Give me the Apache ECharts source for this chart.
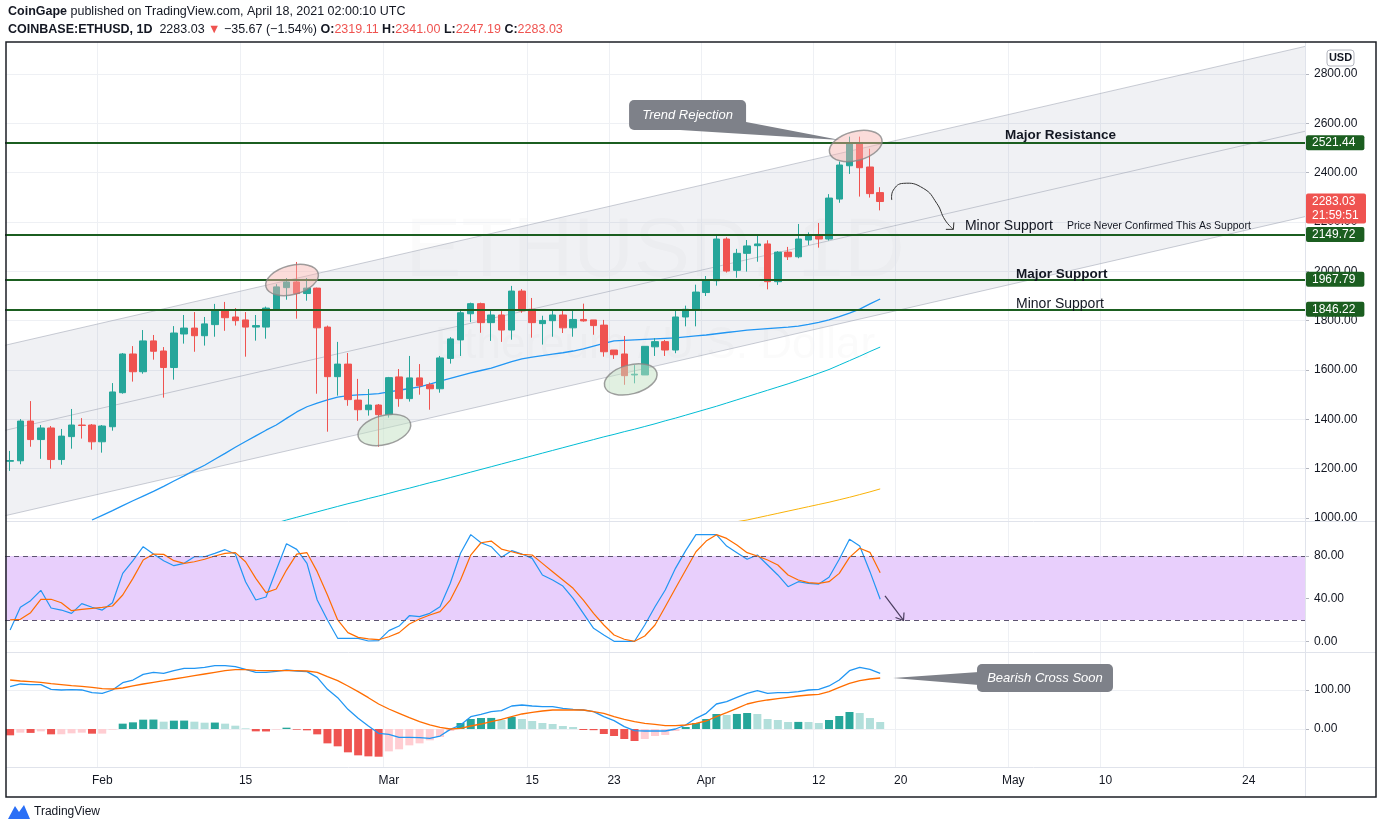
<!DOCTYPE html>
<html><head><meta charset="utf-8">
<script src="https://cdn.jsdelivr.net/npm/echarts@6/dist/echarts.min.js"></script>
<style>html,body{margin:0;padding:0;background:#fff}#c{width:1380px;height:831px}</style>
</head><body><div id="c"></div>
<script>
// ---------- categories ----------
const dates = [];
(function(){ let t = Date.UTC(2021,0,23); const end = Date.UTC(2021,4,29);
  while (t <= end) { dates.push(new Date(t).toISOString().slice(0,10)); t += 86400000; } })();
const N = dates.length;
const tickDates  = ['2021-02-01','2021-02-15','2021-03-01','2021-03-15','2021-03-23','2021-04-01','2021-04-12','2021-04-20','2021-05-01','2021-05-10','2021-05-24'];
const tickLabels = ['Feb','15','Mar','15','23','Apr','12','20','May','10','24'];
const priceTicks = [1000,1200,1400,1600,1800,2000,2200,2400,2600,2800];
const stochTicks = [0,40,80];
const macdTicks  = [0,100];

// ---------- OHLC (Jan 23 .. Apr 18) ----------
const open  = [1230,1232,1393,1318,1365,1237,1330,1377,1377,1309,1370,1508,1665,1593,1718,1677,1610,1746,1770,1739,1784,1845,1815,1803,1774,1774,1846,1934,1957,1910,1932,1774,1573,1624,1478,1439,1458,1419,1572,1484,1568,1540,1524,1647,1722,1828,1869,1792,1823,1762,1920,1846,1788,1800,1823,1771,1805,1803,1782,1681,1665,1580,1580,1694,1715,1681,1815,1846,1914,1962,2131,2004,2073,2104,2111,1958,2078,2059,2127,2146,2131,2293,2428,2519,2423,2319.11];
const high  = [1272,1401,1474,1377,1373,1361,1442,1405,1381,1377,1547,1669,1697,1762,1742,1693,1778,1823,1835,1815,1868,1876,1851,1835,1823,1857,1948,1973,2038,1973,1934,1780,1714,1669,1564,1523,1462,1572,1604,1657,1624,1549,1657,1733,1846,1873,1873,1843,1839,1941,1928,1892,1820,1840,1846,1840,1869,1803,1803,1681,1738,1620,1696,1729,1722,1839,1861,1946,1981,2143,2138,2091,2127,2147,2126,2082,2099,2192,2158,2196,2313,2445,2546,2546,2497,2341.00];
const low   = [1191,1218,1289,1240,1200,1216,1281,1322,1277,1265,1354,1504,1553,1585,1642,1488,1561,1707,1674,1699,1735,1759,1780,1654,1719,1727,1842,1885,1808,1881,1504,1350,1496,1455,1394,1415,1289,1407,1451,1472,1500,1439,1508,1626,1657,1794,1751,1718,1714,1723,1832,1731,1703,1735,1750,1735,1796,1743,1654,1645,1540,1546,1580,1657,1657,1668,1777,1777,1900,1942,1995,1974,1999,2039,1927,1945,2046,2053,2107,2096,2125,2278,2395,2303,2299,2247.19];
const close = [1233,1393,1318,1365,1237,1332,1377,1375,1309,1373,1511,1665,1593,1718,1676,1610,1750,1770,1739,1787,1845,1812,1800,1774,1780,1851,1937,1957,1910,1932,1771,1573,1624,1480,1439,1458,1419,1569,1484,1568,1536,1524,1649,1726,1832,1869,1792,1823,1762,1920,1840,1792,1801,1823,1771,1805,1799,1780,1674,1662,1577,1583,1696,1715,1681,1815,1846,1916,1965,2131,2001,2073,2103,2111,1958,2078,2059,2131,2146,2131,2297,2431,2519,2420,2315,2283.03];

// ---------- moving averages ----------
function pad(n, arr){ return Array(n).fill(null).concat(arr); }
const ma50 = pad(8, [992,1011,1030,1050,1070,1089,1108,1128,1150,1171,
  1193,1214,1238,1262,1287,1310,1333,1356,1377,1404,
  1430,1451,1466,1479,1490,1496,1499,1501,1504,1511,
  1518,1525,1532,1543,1555,1566,1577,1588,1598,1608,
  1621,1634,1645,1652,1658,1664,1670,1677,1686,1697,
  1708,1718,1720,1722,1724,1726,1728,1730,1734,1738,
  1742,1747,1752,1757,1762,1765,1768,1771,1774,1778,
  1785,1793,1803,1816,1831,1847,1868,1888]);
const ma100 = pad(26, [980,992,1003,1014,1025,1036,1047,1058,1068,1079,
  1089,1100,1111,1121,1132,1143,1153,1164,1175,1186,
  1197,1208,1219,1230,1241,1252,1263,1274,1285,1296,
  1307,1318,1329,1339,1350,1360,1371,1382,1394,1405,
  1417,1429,1441,1453,1466,1479,1492,1505,1518,1531,
  1544,1558,1572,1587,1602,1620,1638,1656,1675,1693]);
const ma200 = pad(71, [985,992,1001,1010,1019,1028,1037,1046,1055,1064,1074,1084,1095,1106,1118]);

// ---------- Stoch RSI ----------
const stochK = [10.6,31.9,38.1,47.8,31.2,29.3,26.2,35.3,31.9,29.3,36.2,63.7,75.6,88.7,81.8,75.6,70.9,73.1,79.3,79.3,82.5,85.9,81.8,55.9,38.7,41.5,66.8,91.5,86.2,73.1,38.7,20,2.8,2.8,2.8,0.3,0.6,10,14.3,24,23.1,26.2,32.4,54.4,82.5,100,92.4,88.7,78.7,85,81.8,77.8,62.2,57.5,51.8,40.3,26.2,12.2,5.9,0,0,0,15.3,32.4,48.1,68.4,85,100,100,100,89.3,83.1,76.9,80.9,71.5,62.2,51.2,55.9,54.4,53.7,60,76.9,95.6,89.3,65.3,39.4];
const stochD = [20,20.6,26.8,39.4,39.4,36.2,28.7,30,30.9,31.9,33.1,43.4,59,76.2,81.8,81.5,75.6,73.1,74.6,76.9,80,82.5,83.1,74.6,59,45.6,49,66.8,81.8,83.1,65.3,43.4,20,8.1,3.7,2.2,1.5,4.3,8.1,16.2,20.9,24.7,27.8,38.7,57.5,80.9,92.4,94,86.5,84,81.5,80.9,73.1,65.3,57.5,49.7,38.7,26.2,15.3,5.9,1.9,0,5,15.3,32.4,49.7,66.8,84,94,100,96.5,90.3,83.1,80,76.2,71.5,62.2,57.5,55,54.4,55.9,63.7,78.7,87.2,83.4,64.3];

// ---------- MACD ----------
const macdLine = [108.5,115.4,113.7,113.7,101.7,100,100.9,100,93.2,91.5,100,118.8,125.6,140.2,145.3,142.7,149.6,155.6,155.6,158.1,162.4,162.4,159.8,153,145.3,145.3,147.9,151.3,148.7,147,132.5,101.7,80.3,50.4,27.4,7.7,-11,-13.7,-21.4,-21.4,-22.2,-24,-18,-0.9,10.3,31.6,37.6,44.4,47,59,61.5,59,57.3,57.3,53,50.4,48.7,44.4,31.6,21.4,6,-4.3,-5.1,-5.1,-5.1,0,10.3,27.4,40.2,64.1,70.1,81.2,91.5,98.3,91.5,93.2,93.2,95.7,100,101.7,110.3,125.6,149.6,158.1,153,142.7];
const macdSignal = [125.6,123.1,121.4,119.7,116.2,113.7,111.1,109.4,106.8,103.4,102.6,105.1,110.3,115.4,119.7,123.9,128.2,132.5,136.8,141,145.3,149.6,152.1,152.1,150.4,149.6,149.6,149.6,149.6,148.7,145.3,134.2,123.9,110.3,95.7,80.3,64.1,51.3,40.2,29.1,18.8,10.3,4.3,0,1.7,7.7,12.8,18.8,24.8,31.6,38.5,42.7,46.2,48.7,48.7,48.7,48.7,44.4,40.2,31.6,24.8,18.8,14.5,12,8.5,8.5,10.3,14.5,20.5,31.6,41.9,53,64.1,70.1,74.4,77.8,81.2,84.6,87.2,88.9,95.7,106.8,117.1,124,128.2,130.8];
const macdHist = [-16.2,-9.4,-10,-6,-13.7,-13.5,-11.1,-9.4,-12,-11.8,-1.7,13.7,17.1,23.9,24.2,18.8,21.4,21.6,18.8,16.2,16.5,13.7,8.5,1.7,-6,-6.3,-1.7,3.4,-1.7,-3.4,-13.7,-36.8,-44.4,-59.8,-67.5,-70.1,-71,-57.3,-52.1,-41.9,-36.8,-29,-20.5,-5.1,15.4,25.6,28.2,28.4,23.1,30.8,25.6,20.5,15.4,12.8,7.7,5.1,-2.6,-3,-12.8,-17.9,-25.6,-30.8,-25.6,-17.9,-15.4,-5.1,5.1,15.4,25.6,38.5,35.9,38.6,41,38.5,25.6,23.1,17.9,18.2,17.9,15.4,23.1,33.3,43.6,41,28.2,17.9];

// ---------- drawn levels / annotations (data coordinates) ----------
const levels = [2521.44, 2149.72, 1967.79, 1846.22];
const lastPrice = 2283.03;
const channelIdx = [0, 126];
const channelUpper = [1705, 2907];
const channelMid = [1360, 2563];
const channelLower = [1014, 2217];
const ellipseAnchors = [[27.54, 1965, 'red'], [36.56, 1357, 'green'], [60.63, 1562, 'green'], [82.61, 2508, 'red']];
const textAnchors = [
  ['Major Resistance', 97.2, 2552.7, 'b'],
  ['Minor Support', 93.28, 2183.8, 'n'],
  ['Price Never Confirmed This As Support', 103.25, 2183.8, 's'],
  ['Major Support', 98.27, 1989.2, 'b'],
  ['Minor Support', 98.27, 1867.6, 'n']
];
const trendTip = [81.08, 2532.4];
const bearTip = [86.25, 130.8];
const curveStart = [86.13, 2289];
const stochArrowStart = [85.47, 42.5];

// ---------- chart ----------
const FONT = 'Liberation Sans, Arial, sans-serif';
const UP = '#26a69a', DN = '#ef5350', UPL = '#b2dfdb', DNL = '#ffcdd2';
const GRIDC = '#eef0f4';
const tickSet = new Set(tickDates);
const histColors = macdHist.map((v, i) => { const p = i > 0 ? macdHist[i-1] : v;
  if (v >= 0) return v > p ? UP : UPL; return v < p || i === 0 ? DN : DNL; });

const grids = [
  {left:5, right:75, top:42, height:479},
  {left:5, right:75, top:521, height:131},
  {left:5, right:75, top:652, height:115}
].map(g => Object.assign(g, {containLabel:false, outerBoundsMode:'none', show:false}));

function xAx(i){
  return {type:'category', gridIndex:i, data:dates, boundaryGap:true, z:1,
    axisLine:{show:false}, axisTick:{show:false},
    axisLabel:{show: i===2, interval:(idx, v) => tickSet.has(v),
      formatter: v => tickLabels[tickDates.indexOf(v)] || '', color:'#131722', fontSize:12, fontFamily:FONT, margin:8},
    splitLine:{show:true, interval:(idx, v) => tickSet.has(v), lineStyle:{color:GRIDC, width:1}}};
}
function yAx(i, min, max, ticks){
  return {type:'value', gridIndex:i, position:'right', min, max, scale:true, z:1,
    axisLine:{show:false},
    axisTick:{show:true, customValues:ticks, length:4, lineStyle:{color:'#b2b5be'}},
    axisLabel:{show:true, customValues:ticks, formatter: v => v.toFixed(2), color:'#131722', fontSize:12, fontFamily:FONT, margin:9},
    splitLine:{show:true, lineStyle:{color:GRIDC, width:1}}};
}

const option = {
  animation:false,
  textStyle:{fontFamily:FONT},
  grid: grids,
  xAxis:[xAx(0), xAx(1), xAx(2)],
  yAxis:[yAx(0, 987.9, 2929.7, priceTicks), yAx(1, -10.03, 112.8, stochTicks), yAx(2, -97.4, 197.4, macdTicks)],
  series:[
    {type:'line', xAxisIndex:0, yAxisIndex:0, data:ma200, showSymbol:false, symbol:'none', z:2, lineStyle:{color:'#f9b208', width:1}},
    {type:'line', xAxisIndex:0, yAxisIndex:0, data:ma100, showSymbol:false, symbol:'none', z:2, lineStyle:{color:'#00bcd4', width:1}},
    {type:'line', xAxisIndex:0, yAxisIndex:0, data:ma50, showSymbol:false, symbol:'none', z:2, lineStyle:{color:'#2196f3', width:1.3}},
    {type:'candlestick', xAxisIndex:0, yAxisIndex:0, z:3, barWidth:7,
      data: open.map((o, i) => [o, close[i], low[i], high[i]]),
      itemStyle:{color:UP, color0:DN, borderColor:UP, borderColor0:DN, borderWidth:1},
      markLine:{silent:true, symbol:['none','none'], z:6,
        lineStyle:{color:'#1b5e20', width:2.2, type:'solid'},
        label:{show:true, position:'end', distance:1, formatter: p => p.value.toFixed(2),
          color:'#fff', backgroundColor:'#1b5e20', padding:[2,9,1,6], fontSize:12, fontFamily:FONT, borderRadius:2},
        data: levels.map(v => ({yAxis:v}))}},
    {type:'line', xAxisIndex:1, yAxisIndex:1, data:stochK, showSymbol:false, symbol:'none', z:3, lineStyle:{color:'#2196f3', width:1.2},
      markArea:{silent:true, itemStyle:{color:'#e8cffc'}, data:[[{yAxis:20},{yAxis:80}]]},
      markLine:{silent:true, symbol:['none','none'], label:{show:false},
        lineStyle:{color:'#5d5470', width:1, type:[5,4]}, data:[{yAxis:20},{yAxis:80}]}},
    {type:'line', xAxisIndex:1, yAxisIndex:1, data:stochD, showSymbol:false, symbol:'none', z:3, lineStyle:{color:'#ff6d00', width:1.2}},
    {type:'bar', xAxisIndex:2, yAxisIndex:2, barWidth:8, z:2,
      data: macdHist.map((v, i) => ({value:v, itemStyle:{color:histColors[i]}}))},
    {type:'line', xAxisIndex:2, yAxisIndex:2, data:macdLine, showSymbol:false, symbol:'none', z:3, lineStyle:{color:'#2196f3', width:1.3}},
    {type:'line', xAxisIndex:2, yAxisIndex:2, data:macdSignal, showSymbol:false, symbol:'none', z:3, lineStyle:{color:'#ff6d00', width:1.3}}
  ]
};

const chart = echarts.init(document.getElementById('c'), null, {renderer:'canvas'});
chart.setOption(option);

// ---------- drawings positioned through the axes ----------
function X(g, idx){ const a = chart.convertToPixel({gridIndex:g}, [0, 0]); const b = chart.convertToPixel({gridIndex:g}, [N-1, 0]); return a[0] + (b[0]-a[0]) * idx / (N-1); }
function Y(g, v){ return chart.convertToPixel({gridIndex:g}, [0, v])[1]; }
const GL = 5, GR = 1305;
const G = [];
// watermark
G.push({type:'text', z:0, silent:true, x:655, y:253, style:{text:'ETHUSD, 1D', font:'84px '+FONT, fill:'rgba(120,123,134,0.03)', align:'center', verticalAlign:'middle'}});
G.push({type:'text', z:0, silent:true, x:655, y:346, style:{text:'Ethereum / U.S. Dollar', font:'44px '+FONT, fill:'rgba(120,123,134,0.03)', align:'center', verticalAlign:'middle'}});
// channel
const cx0 = X(0, channelIdx[0]), cx1 = X(0, channelIdx[1]);
function lineAt(vals, x){ const y0 = Y(0, vals[0]), y1 = Y(0, vals[1]); return y0 + (y1 - y0) * (x - cx0) / (cx1 - cx0); }
G.push({type:'polygon', z:1, silent:true, shape:{points:[[GL, lineAt(channelUpper, GL)], [GR, lineAt(channelUpper, GR)], [GR, lineAt(channelLower, GR)], [GL, lineAt(channelLower, GL)]]}, style:{fill:'rgba(115,125,150,0.105)'}});
[channelUpper, channelMid, channelLower].forEach(c => G.push({type:'line', z:1, silent:true, shape:{x1:GL, y1:lineAt(c, GL), x2:GR, y2:lineAt(c, GR)}, style:{stroke:'rgba(150,155,172,0.5)', lineWidth:1}}));
// ellipses
ellipseAnchors.forEach(e => G.push({type:'ellipse', z:20, silent:true, x:X(0, e[0]), y:Y(0, e[1]), rotation:0.26,
  shape:{cx:0, cy:0, rx:27, ry:14.5},
  style:{fill: e[2] === 'red' ? 'rgba(246,178,172,0.45)' : 'rgba(196,226,196,0.5)', stroke:'rgba(135,135,135,0.8)', lineWidth:1.5}}));
// text notes
textAnchors.forEach(t => {
  const f = t[3] === 'b' ? 'bold 13.5px ' : (t[3] === 's' ? '10.5px ' : '14px ');
  G.push({type:'text', z:20, silent:true, x:X(0, t[1]), y:Y(0, t[2]), style:{text:t[0], font:f+FONT, fill:'#131722', align:'left', verticalAlign:'middle'}});
});
// Trend Rejection callout
(function(){ const tx = X(0, trendTip[0]), ty = Y(0, trendTip[1]); const C = '#7e8189';
  G.push({type:'polygon', z:20, silent:true, shape:{points:[[tx-160, ty-10], [tx-94, ty-18], [tx, ty]]}, style:{fill:C}});
  G.push({type:'rect', z:21, silent:true, shape:{x:tx-211, y:ty-40, width:117, height:30, r:5}, style:{fill:C}});
  G.push({type:'text', z:22, silent:true, x:tx-152.5, y:ty-25, style:{text:'Trend Rejection', font:'italic 13px '+FONT, fill:'#fff', align:'center', verticalAlign:'middle'}});
})();
// Bearish Cross Soon callout
(function(){ const tx = X(2, bearTip[0]), ty = Y(2, bearTip[1]); const C = '#7e8189';
  G.push({type:'polygon', z:20, silent:true, shape:{points:[[tx, ty], [tx+86, ty-6], [tx+86, ty+7]]}, style:{fill:C}});
  G.push({type:'rect', z:21, silent:true, shape:{x:tx+84, y:ty-14, width:136, height:28, r:5}, style:{fill:C}});
  G.push({type:'text', z:22, silent:true, x:tx+152, y:ty, style:{text:'Bearish Cross Soon', font:'italic 13px '+FONT, fill:'#fff', align:'center', verticalAlign:'middle'}});
})();
// curved arrow in price pane
(function(){ const sx = X(0, curveStart[0]), sy = Y(0, curveStart[1]);
  const rel = [[0,0],[1.6,-10],[11.6,-16.7],[31.6,-11.7],[45,3.3],[53.3,20],[61.6,29.3]];
  G.push({type:'polyline', z:20, silent:true, shape:{points: rel.map(p => [sx+p[0], sy+p[1]]), smooth:0.5}, style:{stroke:'#333', lineWidth:1, fill:null}});
  const tx = sx+61.6, ty = sy+29.3;
  G.push({type:'polyline', z:20, silent:true, shape:{points:[[tx-7.5, ty], [tx, ty], [tx+0.5, ty-7]]}, style:{stroke:'#333', lineWidth:1, fill:null}});
})();
// stoch arrow
(function(){ const sx = X(1, stochArrowStart[0]), sy = Y(1, stochArrowStart[1]); const ex = sx+18.5, ey = sy+24.5;
  G.push({type:'line', z:20, silent:true, shape:{x1:sx, y1:sy, x2:ex, y2:ey}, style:{stroke:'#4a3d5e', lineWidth:1.2}});
  G.push({type:'polyline', z:20, silent:true, shape:{points:[[ex-8, ey-3], [ex, ey], [ex+0.5, ey-8]]}, style:{stroke:'#4a3d5e', lineWidth:1.2, fill:null}});
})();
// current price label
(function(){ const y = Y(0, lastPrice);
  G.push({type:'rect', z:30, silent:true, shape:{x:1306, y:y-8, width:60, height:30, r:2}, style:{fill:'#ef5350'}});
  G.push({type:'text', z:31, silent:true, x:1312, y:y, style:{text:lastPrice.toFixed(2), font:'12px '+FONT, fill:'#fff', verticalAlign:'middle'}});
  G.push({type:'text', z:31, silent:true, x:1312, y:y+14, style:{text:'21:59:51', font:'12px '+FONT, fill:'#fff', verticalAlign:'middle'}});
})();
// frame & separators
G.push({type:'rect', z:40, silent:true, shape:{x:1327, y:50, width:27, height:16, r:3}, style:{fill:'#fff', stroke:'#b2b5be', lineWidth:1}});
G.push({type:'text', z:41, silent:true, x:1340.5, y:58, style:{text:'USD', font:'bold 11px '+FONT, fill:'#131722', align:'center', verticalAlign:'middle'}});
[521.5, 652.5, 767.5].forEach(y => G.push({type:'line', z:40, silent:true, shape:{x1:6, y1:y, x2:1376, y2:y}, style:{stroke:'#e0e3eb', lineWidth:1}}));
G.push({type:'line', z:40, silent:true, shape:{x1:1305.5, y1:42, x2:1305.5, y2:797}, style:{stroke:'#e0e3eb', lineWidth:1}});
G.push({type:'rect', z:41, silent:true, shape:{x:6, y:42, width:1370, height:755}, style:{fill:null, stroke:'#1c1f26', lineWidth:1.5}});
// header
G.push({type:'text', z:50, silent:true, x:8, y:12, style:{text:'{b|CoinGape} published on TradingView.com, April 18, 2021 02:00:10 UTC',
  font:'12.5px '+FONT, fill:'#131722', verticalAlign:'middle', rich:{b:{fontWeight:'bold', fontSize:12.5, fontFamily:FONT, fill:'#131722'}}}});
G.push({type:'text', z:50, silent:true, x:8, y:30, style:{
  text:'{b|COINBASE:ETHUSD, 1D}  2283.03 {r|▼} −35.67 (−1.54%) {b|O:}{r|2319.11} {b|H:}{r|2341.00} {b|L:}{r|2247.19} {b|C:}{r|2283.03}',
  font:'12.5px '+FONT, fill:'#131722', verticalAlign:'middle',
  rich:{b:{fontWeight:'bold', fontSize:12.5, fontFamily:FONT, fill:'#131722'}, r:{fontSize:12.5, fontFamily:FONT, fill:'#ef5350'}}}});
// footer logo
G.push({type:'polygon', z:50, silent:true, shape:{points:[[8,819],[15,806],[19,812],[24,805],[30,819]]}, style:{fill:'#2a6ff6'}});
G.push({type:'text', z:50, silent:true, x:34, y:812, style:{text:'TradingView', font:'12px '+FONT, fill:'#131722', verticalAlign:'middle'}});

chart.setOption({graphic: G});
</script></body></html>
